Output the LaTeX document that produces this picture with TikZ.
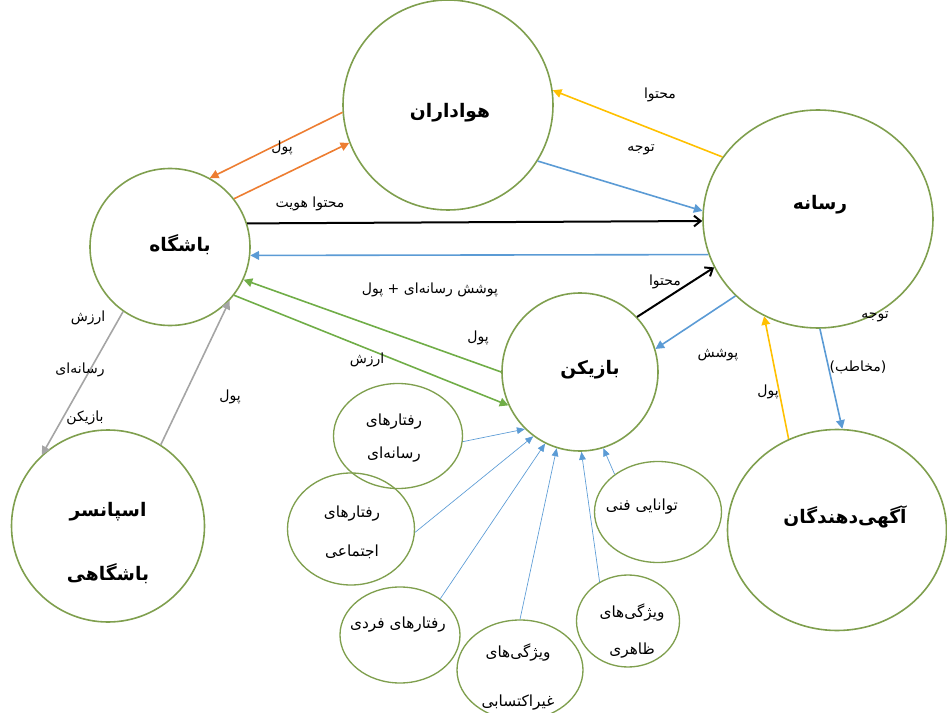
\documentclass[tikz,border=0pt]{standalone}
\usepackage{fontspec}
\usetikzlibrary{shapes.geometric,arrows.meta}
\newfontfamily\farsi[Script=Arabic]{DejaVu Sans}
\TeXXeTstate=1
\definecolor{ringgreen}{HTML}{7F9F4E}
\definecolor{flowblue}{HTML}{5B9BD5}
\definecolor{floworange}{HTML}{ED7D31}
\definecolor{flowyellow}{HTML}{FFC000}
\definecolor{flowgray}{HTML}{A5A5A5}
\definecolor{flowgreen}{HTML}{70AD47}

\begin{document}
\begin{tikzpicture}[
  x=0.75pt,
  y=-0.75pt,
  ring/.style 2 args={ellipse, draw=ringgreen, line width=1.2pt, inner sep=0pt,
    minimum width=#1*0.75pt, minimum height=#2*0.75pt},
  subring/.style 2 args={ring={#1}{#2}, line width=1pt},
  maintext/.style={font=\farsi\bfseries\fontsize{14}{16}\selectfont},
  flowtext/.style={font=\farsi\fontsize{10.5}{12}\selectfont},
  subtext/.style={font=\farsi\fontsize{11.5}{14}\selectfont, align=center},
  flow/.style={line width=1.2pt, -{Triangle[length=6.5pt,width=6.5pt]}},
  feed/.style={flowblue, line width=0.5pt, -{Triangle[length=6pt,width=5pt]}},
  blackflow/.style={black, line width=1.5pt, -{Straight Barb[length=5pt,width=8pt]}}
]
  \useasboundingbox (0,0) rectangle (947,713);

  % main circles
  \node[ring={210}{210}] (fans) at (448,105) {};
  \node[ring={160}{157}] (club) at (170,247) {};
  \node[ring={230}{218}] (media) at (818,219) {};
  \node[ring={156}{158}] (player) at (580,372) {};
  \node[ring={193}{192}] (sponsor) at (108,526) {};
  \node[ring={219}{201}] (adv) at (837,530) {};

  % small circles round the player
  \node[subring={129}{105}] (mediabeh) at (398,436) {};
  \node[subring={127}{112}] (socialbeh) at (351,529) {};
  \node[subring={120}{96}] (personbeh) at (400,635) {};
  \node[subring={126}{100}] (innate) at (520,670) {};
  \node[subring={103}{92}] (looks) at (628,621) {};
  \node[subring={127}{101}] (skill) at (658,512) {};

  % titles
  \node[maintext] (fanstxt) at (450,113) {\beginR هواداران\endR};
  \node[maintext] (clubtxt) at (180,245) {\beginR باشگاه\endR};
  \node[maintext] (mediatxt) at (820,205) {\beginR رسانه\endR};
  \node[maintext] (playertxt) at (590,370) {\beginR بازیکن\endR};
  \node[maintext, align=center] (sponsortxt) at (108,543)
    {\beginR اسپانسر\endR\\[31pt]\beginR باشگاهی\endR};
  \node[maintext] (advtxt) at (845,517) {\beginR آگهی‌دهندگان\endR};

  \node[subtext] (mediabehtxt) at (394,438) {\beginR رفتارهای\endR\\[11pt]\beginR رسانه‌ای\endR};
  \node[subtext] (socialbehtxt) at (352,532) {\beginR رفتارهای\endR\\[15pt]\beginR اجتماعی\endR};
  \node[subtext] (personbehtxt) at (398,625) {\beginR رفتارهای فردی\endR};
  \node[subtext] (innatetxt) at (518,677) {\beginR ویژگی‌های\endR\\[23pt]\beginR غیراکتسابی\endR};
  \node[subtext] (lookstxt) at (632,631) {\beginR ویژگی‌های\endR\\[14pt]\beginR ظاهری\endR};
  \node[subtext] (skilltxt) at (642,507) {\beginR توانایی فنی\endR};

  % connectors
  \draw[flow, floworange] (fans.184) -- (club.60);
  \draw[flow, floworange] (club.37) -- (fans.201);
  \draw[blackflow] (club.17) -- (media.181);
  \draw[flow, flowblue] (media.198) -- (club.-6);
  \draw[flow, flowyellow] (media.147) -- (fans.8);
  \draw[flow, flowblue] (fans.-32) -- (media.176);
  \draw[flow, flowgreen] (player.180) -- (club.-24);
  \draw[flow, flowgreen] (club.-37) -- (player.205);
  \draw[flow, flowgray] (club.234) -- (sponsor.133);
  \draw[flow, flowgray] (sponsor.57) -- (club.-42);
  \draw[blackflow] (player.44) -- (media.205);
  \draw[flow, flowblue] (media.223) -- (player.17);
  \draw[flow, flowyellow] (adv.118) -- (media.241);
  \draw[flow, flowblue] (media.-89) -- (adv.87);

  \draw[feed] (mediabeh.-5) -- (player.226);
  \draw[feed] (socialbeh.-3) -- (player.234);
  \draw[feed] (personbeh.42) -- (player.244);
  \draw[feed] (innate.90) -- (player.253);
  \draw[feed] (looks.126) -- (player.271);
  \draw[feed] (skill.139) -- (player.-73);

  % connector texts
  \node[flowtext] (moneyfans) at (282,148) {\beginR پول\endR};
  \node[flowtext] (identity) at (310,204) {\beginR محتوا هویت\endR};
  \node[flowtext] (contentfans) at (660,95) {\beginR محتوا\endR};
  \node[flowtext] (attnfans) at (641,150) {\beginR توجه\endR};
  \node[flowtext] (coverage) at (430,290) {\beginR پوشش رسانه‌ای + پول\endR};
  \node[flowtext] (moneyplayer) at (478,338) {\beginR پول\endR};
  \node[flowtext] (valueplayer) at (367,360) {\beginR ارزش\endR};
  \node[flowtext] (valuea) at (88,318) {\beginR ارزش\endR};
  \node[flowtext] (valueb) at (80,370) {\beginR رسانه‌ای\endR};
  \node[flowtext] (valuec) at (85,418) {\beginR بازیکن\endR};
  \node[flowtext] (moneysponsor) at (230,397) {\beginR پول\endR};
  \node[flowtext] (contentplayer) at (665,282) {\beginR محتوا\endR};
  \node[flowtext] (coverplayer) at (718,355) {\beginR پوشش\endR};
  \node[flowtext] (moneyadv) at (768,392) {\beginR پول\endR};
  \node[flowtext] (attnadv) at (875,317) {\beginR توجه\endR};
  \node[flowtext] (audience) at (858,367) {\beginR (مخاطب)\endR};
\end{tikzpicture}
\end{document}
